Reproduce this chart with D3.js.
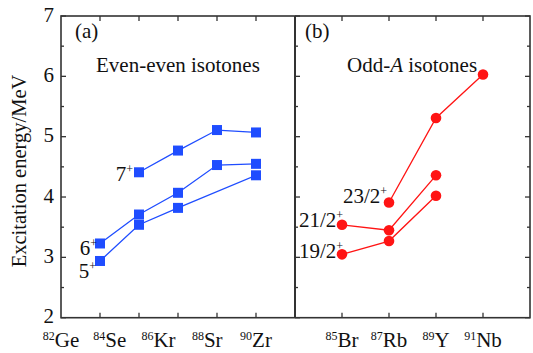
<!DOCTYPE html>
<html><head><meta charset="utf-8">
<script src="https://cdn.jsdelivr.net/npm/d3@7"></script>
<style>
html,body{margin:0;padding:0;background:#fff;}
</style></head>
<body><div id="chart"></div>
<script>
// ---------- data ----------
const yTicks = [2, 3, 4, 5, 6, 7];
const evenNuclei = [["82","Ge"],["84","Se"],["86","Kr"],["88","Sr"],["90","Zr"]];
const oddNuclei = [["85","Br"],["87","Rb"],["89","Y"],["91","Nb"]];
// even-even: x = position index (1..5)
const even5 = [[1,2.94],[2,3.54],[3,3.82],[5,4.36]];
const even6 = [[1,3.23],[2,3.71],[3,4.07],[4,4.53],[5,4.55]];
const even7 = [[2,4.41],[3,4.77],[4,5.11],[5,5.07]];
// odd-A: x = position index (1..4)
const odd19 = [[1,3.05],[2,3.27],[3,4.02]];
const odd21 = [[1,3.54],[2,3.45],[3,4.36]];
const odd23 = [[2,3.91],[3,5.31],[4,6.03]];
const evenLabels = [["5","+"],["6","+"],["7","+"]];
const oddLabels = [["19/2","+"],["21/2","+"],["23/2","+"]];

// ---------- layout ----------
const W = 533, H = 353;
const yTop = 16, yBot = 317.7;
const L = {x0: 61, x1: 295, n: 6};
const R = {x0: 295, x1: 530, n: 5};
const blue = "#1f4dff", red = "#ff1414", frame = "#333";
const FS = 21, SUP = 12;
const FONT = "'Liberation Serif', 'Times New Roman', Times, 'DejaVu Serif', serif";

const svg = d3.select("#chart").append("svg").attr("width", W).attr("height", H)
  .style("font-family", FONT).attr("font-family", FONT);
const y = d3.scaleLinear().domain([2, 7]).range([yBot, yTop]);
const xL = d3.scaleLinear().domain([0, L.n]).range([L.x0, L.x1]);
const xR = d3.scaleLinear().domain([0, R.n]).range([R.x0, R.x1]);

const minor = d3.range(2.5, 7, 1);

function panelTicks(x, n, leftTicks, rightTicks) {
  const g = svg.append("g").attr("stroke", frame).attr("stroke-width", 1.3);
  const idx = d3.range(1, n);
  idx.forEach(i => {
    g.append("line").attr("x1", x(i)).attr("x2", x(i)).attr("y1", yBot).attr("y2", yBot - 5);
    g.append("line").attr("x1", x(i)).attr("x2", x(i)).attr("y1", yTop).attr("y2", yTop + 5);
  });
  const xa = x(0), xb = x(n);
  if (leftTicks) {
    yTicks.forEach(v => g.append("line").attr("x1", xa).attr("x2", xa + 5).attr("y1", y(v)).attr("y2", y(v)));
    minor.forEach(v => g.append("line").attr("x1", xa).attr("x2", xa + 3).attr("y1", y(v)).attr("y2", y(v)));
  }
  if (rightTicks) {
    yTicks.forEach(v => g.append("line").attr("x1", xb).attr("x2", xb - 5).attr("y1", y(v)).attr("y2", y(v)));
    minor.forEach(v => g.append("line").attr("x1", xb).attr("x2", xb - 3).attr("y1", y(v)).attr("y2", y(v)));
  }
}
panelTicks(xL, L.n, true, false);
panelTicks(xR, R.n, true, true);

// frames
svg.append("rect").attr("x", L.x0).attr("y", yTop).attr("width", R.x1 - L.x0).attr("height", yBot - yTop)
  .attr("fill", "none").attr("stroke", frame).attr("stroke-width", 1.6);
svg.append("line").attr("x1", L.x1).attr("x2", L.x1).attr("y1", yTop).attr("y2", yBot)
  .attr("stroke", frame).attr("stroke-width", 2);

// y tick labels
svg.append("g").selectAll("text").data(yTicks).join("text")
  .attr("x", L.x0 - 7).attr("y", d => y(d) + 5.5).attr("text-anchor", "end")
  .attr("font-size", FS).attr("fill", "#111").text(d => d);

// y title
svg.append("text").attr("transform", `translate(26,171) rotate(-90)`)
  .attr("text-anchor", "middle").attr("font-size", 20.5).attr("fill", "#111").text("Excitation energy/MeV");

// x labels
function isoLabel(xpos, d) {
  const t = svg.append("text").attr("x", xpos).attr("y", 347).attr("text-anchor", "middle")
    .attr("font-size", FS).attr("fill", "#111");
  t.append("tspan").attr("font-size", SUP).attr("dy", -7).text(d[0]);
  t.append("tspan").attr("dy", 7).text(d[1]);
}
const evenLabelScale = d3.scalePoint().domain(evenNuclei.map(d => d[0])).range([xL(0), xL(5)]);
evenNuclei.forEach(d => isoLabel(evenLabelScale(d[0]), d));
oddNuclei.forEach((d, i) => isoLabel(xR(i + 1), d));

// panel texts
svg.append("text").attr("x", 75).attr("y", 38).attr("font-size", FS).attr("fill", "#111").text("(a)");
svg.append("text").attr("x", 96).attr("y", 72).attr("font-size", FS).attr("fill", "#111").text("Even-even isotones");
svg.append("text").attr("x", 305).attr("y", 38).attr("font-size", FS).attr("fill", "#111").text("(b)");
const ot = svg.append("text").attr("x", 347).attr("y", 72).attr("font-size", FS).attr("fill", "#111");
ot.append("tspan").text("Odd-");
ot.append("tspan").attr("font-style", "italic").text("A");
ot.append("tspan").text(" isotones");

// series
const line = x => d3.line().x(d => x(d[0])).y(d => y(d[1]));
function drawSeries(data, x, color, shape) {
  svg.append("path").datum(data).attr("d", line(x)).attr("fill", "none")
    .attr("stroke", color).attr("stroke-width", 1.3);
  if (shape === "square") {
    svg.append("g").selectAll("rect").data(data).join("rect")
      .attr("x", d => x(d[0]) - 5).attr("y", d => y(d[1]) - 5)
      .attr("width", 10).attr("height", 10).attr("fill", color);
  } else {
    svg.append("g").selectAll("circle").data(data).join("circle")
      .attr("cx", d => x(d[0])).attr("cy", d => y(d[1])).attr("r", 5.3).attr("fill", color);
  }
}
drawSeries(even5, xL, blue, "square");
drawSeries(even6, xL, blue, "square");
drawSeries(even7, xL, blue, "square");
drawSeries(odd19, xR, red, "circle");
drawSeries(odd21, xR, red, "circle");
drawSeries(odd23, xR, red, "circle");

// state labels (offsets are styling)
function stateLabel(series, x, lab, dx, dy) {
  const p = series[0];
  const t = svg.append("text").attr("x", x(p[0]) + dx).attr("y", y(p[1]) + dy)
    .attr("text-anchor", "end").attr("font-size", FS).attr("fill", "#111");
  t.append("tspan").text(lab[0]);
  t.append("tspan").attr("font-size", SUP).attr("dy", -8).text(lab[1]);
}
stateLabel(even5, xL, evenLabels[0], -4, 17);
stateLabel(even6, xL, evenLabels[1], -3, 12);
stateLabel(even7, xL, evenLabels[2], -6, 9);
stateLabel(odd19, xR, oddLabels[0], 1, 4);
stateLabel(odd21, xR, oddLabels[1], 1, 2);
stateLabel(odd23, xR, oddLabels[2], -2, 1);
</script></body></html>
